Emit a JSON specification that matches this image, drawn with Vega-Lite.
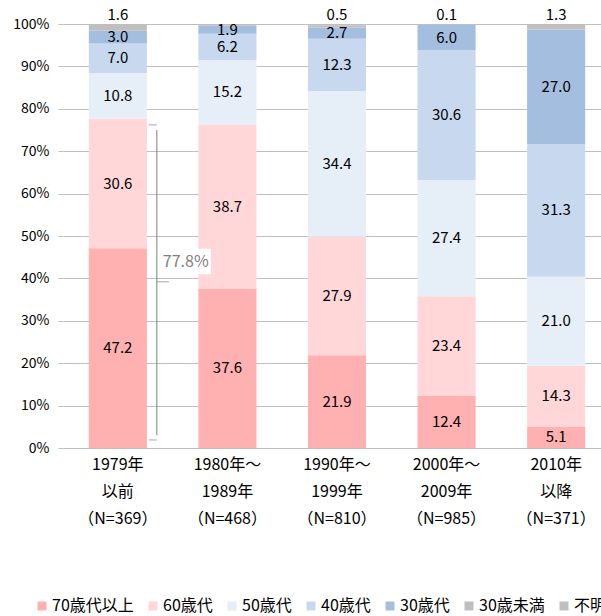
{
  "$schema": "https://vega.github.io/schema/vega-lite/v6.json",
  "autosize": {"type": "none"},
  "padding": {"left": 63, "top": 24, "right": 0, "bottom": 168},
  "width": 538,
  "height": 424,
  "background": "white",
  "config": {
    "view": {"stroke": null},
    "font": "Noto Sans CJK JP",
    "axis": {"labelFont": "Noto Sans CJK JP", "labelColor": "#000000"},
    "legend": {"labelFont": "Noto Sans CJK JP"}
  },
  "datasets": {
    "survey": [
      {"period": "1979年\n以前\n（N=369）", "age": "70歳代以上", "value": 47.2},
      {"period": "1979年\n以前\n（N=369）", "age": "60歳代", "value": 30.6},
      {"period": "1979年\n以前\n（N=369）", "age": "50歳代", "value": 10.8},
      {"period": "1979年\n以前\n（N=369）", "age": "40歳代", "value": 7.0},
      {"period": "1979年\n以前\n（N=369）", "age": "30歳代", "value": 3.0},
      {"period": "1979年\n以前\n（N=369）", "age": "30歳未満", "value": 1.6},
      {"period": "1979年\n以前\n（N=369）", "age": "不明", "value": 0.0},
      {"period": "1980年～\n1989年\n（N=468）", "age": "70歳代以上", "value": 37.6},
      {"period": "1980年～\n1989年\n（N=468）", "age": "60歳代", "value": 38.7},
      {"period": "1980年～\n1989年\n（N=468）", "age": "50歳代", "value": 15.2},
      {"period": "1980年～\n1989年\n（N=468）", "age": "40歳代", "value": 6.2},
      {"period": "1980年～\n1989年\n（N=468）", "age": "30歳代", "value": 1.9},
      {"period": "1980年～\n1989年\n（N=468）", "age": "30歳未満", "value": 0.0},
      {"period": "1980年～\n1989年\n（N=468）", "age": "不明", "value": 0.4},
      {"period": "1990年～\n1999年\n（N=810）", "age": "70歳代以上", "value": 21.9},
      {"period": "1990年～\n1999年\n（N=810）", "age": "60歳代", "value": 27.9},
      {"period": "1990年～\n1999年\n（N=810）", "age": "50歳代", "value": 34.4},
      {"period": "1990年～\n1999年\n（N=810）", "age": "40歳代", "value": 12.3},
      {"period": "1990年～\n1999年\n（N=810）", "age": "30歳代", "value": 2.7},
      {"period": "1990年～\n1999年\n（N=810）", "age": "30歳未満", "value": 0.5},
      {"period": "1990年～\n1999年\n（N=810）", "age": "不明", "value": 0.3},
      {"period": "2000年～\n2009年\n（N=985）", "age": "70歳代以上", "value": 12.4},
      {"period": "2000年～\n2009年\n（N=985）", "age": "60歳代", "value": 23.4},
      {"period": "2000年～\n2009年\n（N=985）", "age": "50歳代", "value": 27.4},
      {"period": "2000年～\n2009年\n（N=985）", "age": "40歳代", "value": 30.6},
      {"period": "2000年～\n2009年\n（N=985）", "age": "30歳代", "value": 6.0},
      {"period": "2000年～\n2009年\n（N=985）", "age": "30歳未満", "value": 0.1},
      {"period": "2000年～\n2009年\n（N=985）", "age": "不明", "value": 0.1},
      {"period": "2010年\n以降\n（N=371）", "age": "70歳代以上", "value": 5.1},
      {"period": "2010年\n以降\n（N=371）", "age": "60歳代", "value": 14.3},
      {"period": "2010年\n以降\n（N=371）", "age": "50歳代", "value": 21.0},
      {"period": "2010年\n以降\n（N=371）", "age": "40歳代", "value": 31.3},
      {"period": "2010年\n以降\n（N=371）", "age": "30歳代", "value": 27.0},
      {"period": "2010年\n以降\n（N=371）", "age": "30歳未満", "value": 1.3},
      {"period": "2010年\n以降\n（N=371）", "age": "不明", "value": 0.0}
    ]
  },
  "encoding": {
    "x": {
      "field": "period",
      "type": "nominal",
      "sort": null,
      "scale": {"paddingInner": 0.47, "paddingOuter": 0.19, "align": 0.62},
      "axis": {
        "title": null,
        "labelAngle": 0,
        "labelExpr": "split(datum.label, '\\n')",
        "labelLineHeight": 27,
        "labelFontSize": 16,
        "labelPadding": 8,
        "domain": false,
        "ticks": false
      }
    }
  },
  "layer": [
    {
      "data": {"name": "survey"},
      "transform": [
        {"calculate": "indexof(['70歳代以上','60歳代','50歳代','40歳代','30歳代','30歳未満','不明'], datum.age)", "as": "order"},
        {"stack": "value", "groupby": ["period"], "sort": [{"field": "order", "order": "ascending"}], "offset": "normalize", "as": ["y0", "y1"]},
        {"calculate": "(datum.y0 + datum.y1) / 2", "as": "mid"}
      ],
      "layer": [
        {
          "mark": {"type": "bar"},
          "encoding": {
            "y": {
              "field": "y0",
              "type": "quantitative",
              "scale": {"domain": [0, 1], "nice": false},
              "axis": {
                "title": null,
                "values": [0, 0.1, 0.2, 0.3, 0.4, 0.5, 0.6, 0.7, 0.8, 0.9, 1],
                "format": ".0%",
                "labelFontSize": 14,
                "labelPadding": 9,
                "domain": false,
                "tickSize": 5,
                "tickColor": "#BFBFBF",
                "grid": true,
                "gridColor": "#BFBFBF",
                "gridWidth": 1
              }
            },
            "y2": {"field": "y1"},
            "color": {
              "field": "age",
              "type": "nominal",
              "scale": {
                "domain": ["70歳代以上", "60歳代", "50歳代", "40歳代", "30歳代", "30歳未満", "不明"],
                "range": ["#FFB0B0", "#FFD7D9", "#E6EEF8", "#C8D8EE", "#A3BEDF", "#BFBFBF", "#BFBFBF"]
              },
              "legend": {
                "title": null,
                "orient": "none",
                "legendX": -29,
                "legendY": 574,
                "direction": "horizontal",
                "symbolType": "square",
                "symbolSize": 81,
                "symbolStrokeWidth": 0,
                "labelFontSize": 16,
                "labelColor": "#000000",
                "labelOffset": 2,
                "columnPadding": 11
              }
            }
          }
        },
        {
          "transform": [{"filter": "datum.order < 5"}],
          "mark": {"type": "text", "fontSize": 15, "color": "#000000", "baseline": "middle"},
          "encoding": {
            "y": {"field": "mid", "type": "quantitative"},
            "text": {"field": "value", "type": "quantitative", "format": ".1f"}
          }
        },
        {
          "transform": [{"filter": "datum.age == '30歳未満' && datum.value > 0"}],
          "mark": {"type": "text", "fontSize": 15, "color": "#000000", "baseline": "middle", "dy": -9},
          "encoding": {
            "y": {"datum": 1, "type": "quantitative"},
            "text": {"field": "value", "type": "quantitative", "format": ".1f"}
          }
        }
      ]
    },
    {
      "data": {"values": [{}]},
      "mark": {"type": "rule", "color": "#7F7F7F", "strokeWidth": 1, "xOffset": 39},
      "encoding": {
        "x": {"datum": "1979年\n以前\n（N=369）"},
        "y": {"datum": 0.03, "type": "quantitative"},
        "y2": {"datum": 0.75}
      }
    },
    {
      "data": {"values": [{"pos": 0.019}, {"pos": 0.762}]},
      "mark": {"type": "tick", "color": "#7F7F7F", "thickness": 1, "size": 8, "xOffset": 35, "orient": "horizontal"},
      "encoding": {
        "x": {"datum": "1979年\n以前\n（N=369）"},
        "y": {"field": "pos", "type": "quantitative"}
      }
    },
    {
      "data": {"values": [{}]},
      "mark": {"type": "tick", "color": "#7F7F7F", "thickness": 1, "size": 12, "xOffset": 45, "orient": "horizontal"},
      "encoding": {
        "x": {"datum": "1979年\n以前\n（N=369）"},
        "y": {"datum": 0.392, "type": "quantitative"}
      }
    },
    {
      "data": {"values": [{}]},
      "mark": {"type": "bar", "color": "white", "width": 50, "xOffset": 68},
      "encoding": {
        "x": {"datum": "1979年\n以前\n（N=369）"},
        "y": {"datum": 0.41, "type": "quantitative"},
        "y2": {"datum": 0.47}
      }
    },
    {
      "data": {"values": [{"label": "77.8%"}]},
      "mark": {"type": "text", "fontSize": 16, "color": "#7F7F7F", "align": "left", "baseline": "middle", "xOffset": 45},
      "encoding": {
        "x": {"datum": "1979年\n以前\n（N=369）"},
        "y": {"datum": 0.439, "type": "quantitative"},
        "text": {"field": "label"}
      }
    }
  ]
}
